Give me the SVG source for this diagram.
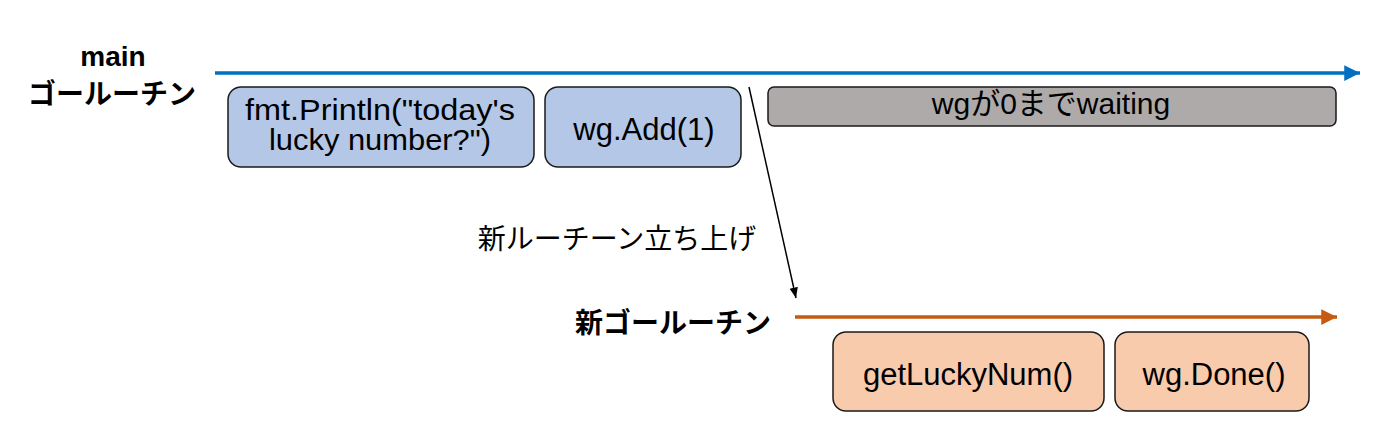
<svg xmlns="http://www.w3.org/2000/svg" width="1400" height="439" viewBox="0 0 1400 439">
<style>
text{font-family:"Liberation Sans","Noto Sans CJK JP",sans-serif;fill:#000}
.lbl{font-size:28px;font-weight:bold}
.mid{font-size:31px;text-anchor:middle}
.two{font-size:29px;text-anchor:middle}
.box{stroke:#1a1a1a;stroke-width:1.5}
.blue{fill:#B4C7E7}
.org{fill:#F8CBAD}
.gray{fill:#AEAAAA}
</style>
<defs>
<marker id="ab" viewBox="0 0 10 10" refX="10" refY="5" markerWidth="5" markerHeight="4.5" markerUnits="strokeWidth" orient="auto"><path d="M0,0L10,5L0,10z" fill="#0070C0"/></marker>
<marker id="ao" viewBox="0 0 10 10" refX="10" refY="5" markerWidth="5" markerHeight="4.5" markerUnits="strokeWidth" orient="auto"><path d="M0,0L10,5L0,10z" fill="#C55A11"/></marker>
<marker id="ak" viewBox="0 0 10 10" refX="10" refY="5" markerWidth="7" markerHeight="7" markerUnits="strokeWidth" orient="auto"><path d="M0,1L10,5L0,9z" fill="#000"/></marker>
</defs>
<g id="connectors">
<line x1="215" y1="73" x2="1360" y2="73" stroke="#0070C0" stroke-width="3.5" marker-end="url(#ab)"/>
<line x1="795" y1="317" x2="1337" y2="317" stroke="#C55A11" stroke-width="3.5" marker-end="url(#ao)"/>
<line x1="749" y1="87" x2="796" y2="298" stroke="#000" stroke-width="1.5" marker-end="url(#ak)"/>
</g>
<g id="label-main"><text class="lbl" x="113" y="66" text-anchor="middle">main</text><text class="lbl" x="112" y="104" text-anchor="middle">ゴールーチン</text></g>
<g id="label-new"><text class="lbl" x="673" y="333" text-anchor="middle">新ゴールーチン</text></g>
<g id="label-spawn"><text x="617" y="249" font-size="28" text-anchor="middle">新ルーチーン立ち上げ</text></g>
<g id="n-println"><rect class="box blue" x="228" y="87" width="306" height="80" rx="13"/><text class="two" x="380" y="120" textLength="270" lengthAdjust="spacingAndGlyphs">fmt.Println("today's</text><text class="two" x="380" y="150" textLength="222" lengthAdjust="spacingAndGlyphs">lucky number?")</text></g>
<g id="n-add"><rect class="box blue" x="545" y="87" width="196" height="80" rx="13"/><text class="mid" x="644" y="140">wg.Add(1)</text></g>
<g id="n-wait"><rect class="box gray" x="768" y="87" width="568" height="39" rx="6"/><text x="1051" y="114" font-size="30" text-anchor="middle">wgが0までwaiting</text></g>
<g id="n-lucky"><rect class="box org" x="833" y="332" width="271" height="79" rx="13"/><text class="mid" x="968" y="385">getLuckyNum()</text></g>
<g id="n-done"><rect class="box org" x="1115" y="332" width="194" height="79" rx="13"/><text class="mid" x="1214" y="385">wg.Done()</text></g>
</svg>
